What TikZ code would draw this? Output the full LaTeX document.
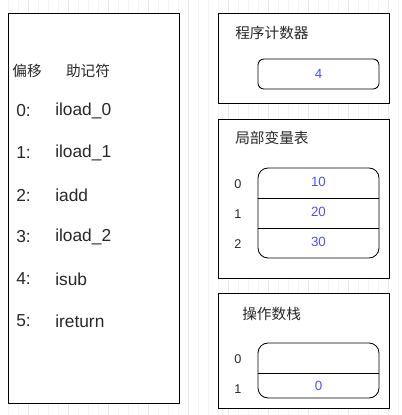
\documentclass[tikz,border=0pt]{standalone}
\usepackage{fontspec}
\setmainfont{Liberation Sans}
\newfontfamily\cjk{Noto Sans CJK SC}
\usetikzlibrary{positioning}
\definecolor{gridminor}{RGB}{244,244,244}
\definecolor{gridmajor}{RGB}{232,232,232}
\definecolor{valblue}{RGB}{80,80,255}
\definecolor{txtgray}{RGB}{40,40,40}

\begin{document}
\begin{tikzpicture}[x=0.75pt,y=-0.75pt,
  frame/.style={draw=black,line width=0.65pt},
  slotbox/.style={draw=black,line width=0.65pt,rounded corners=7.5pt},
  head/.style={font=\cjk\fontsize{11}{13}\selectfont,text=txtgray,inner sep=0pt},
  code/.style={font=\fontsize{13}{15}\selectfont,text=txtgray,anchor=west,inner sep=0pt},
  idx/.style={font=\fontsize{9.5}{11}\selectfont,text=txtgray,inner sep=0pt},
  val/.style={font=\fontsize{10}{12}\selectfont,text=valblue,inner sep=0pt}]
 \useasboundingbox (0,0) rectangle (401,415);
 % background grid
 \fill[white] (0,0) rectangle (401,415);
 \begin{scope}[shift={(8,3)}]
 \draw [step=10,gridminor,line width=0.6pt](-8,-3) grid (393,412);
 \draw [step=40,gridmajor,line width=0.6pt,shift={(20,30)}](-28,-33) grid (373,382);
 \end{scope}
 % code listing
 \draw[frame,fill=white](8,13) rectangle (179,403);
 \node[head] (hoff) at (27,71) {偏移};
 \node[head] (hmne) at (88,71) {助记符};
 \foreach \i/\op in {0/iload\_0,1/iload\_1,2/iadd,3/iload\_2,4/isub,5/ireturn}{
  \node[code] (off\i) at (16,111+42*\i) {\i:};
  \node[code] (op\i) at (55,111+42*\i) {\op};
 }
 % program counter
 \draw[frame,fill=white](218,13) rectangle (389,103);
 \node[head,anchor=west] (hpc) at (235,33) {程序计数器};
 \draw[slotbox,rounded corners=4.5pt](258,59) rectangle (379,89);
 \node[val] (pc) at (318.5,74) {4};
 % local variable table
 \draw[frame,fill=white](218,119) rectangle (389,278);
 \node[head,anchor=west] (hlvt) at (235,138) {局部变量表};
 \draw[slotbox](258,168) rectangle (379,258);
 \draw[frame](258,198)--(379,198);
 \draw[frame](258,228)--(379,228);
 \foreach \i/\v in {0/10,1/20,2/30}{
  \node[idx] (lvi\i) at (238,184+30*\i) {\i};
  \node[val] (lv\i) at (318.5,182+30*\i) {\v};
 }
 % operand stack
 \draw[frame,fill=white](218,293) rectangle (389,408);
 \node[head,anchor=west] (hops) at (242,314) {操作数栈};
 \draw[slotbox](258,343) rectangle (379,398);
 \draw[frame](258,373)--(379,373);
 \node[idx] (osi0) at (238,359) {0};
 \node[idx] (osi1) at (238,389) {1};
 \node[val] (os1) at (318.5,386) {0};
\end{tikzpicture}
\end{document}
